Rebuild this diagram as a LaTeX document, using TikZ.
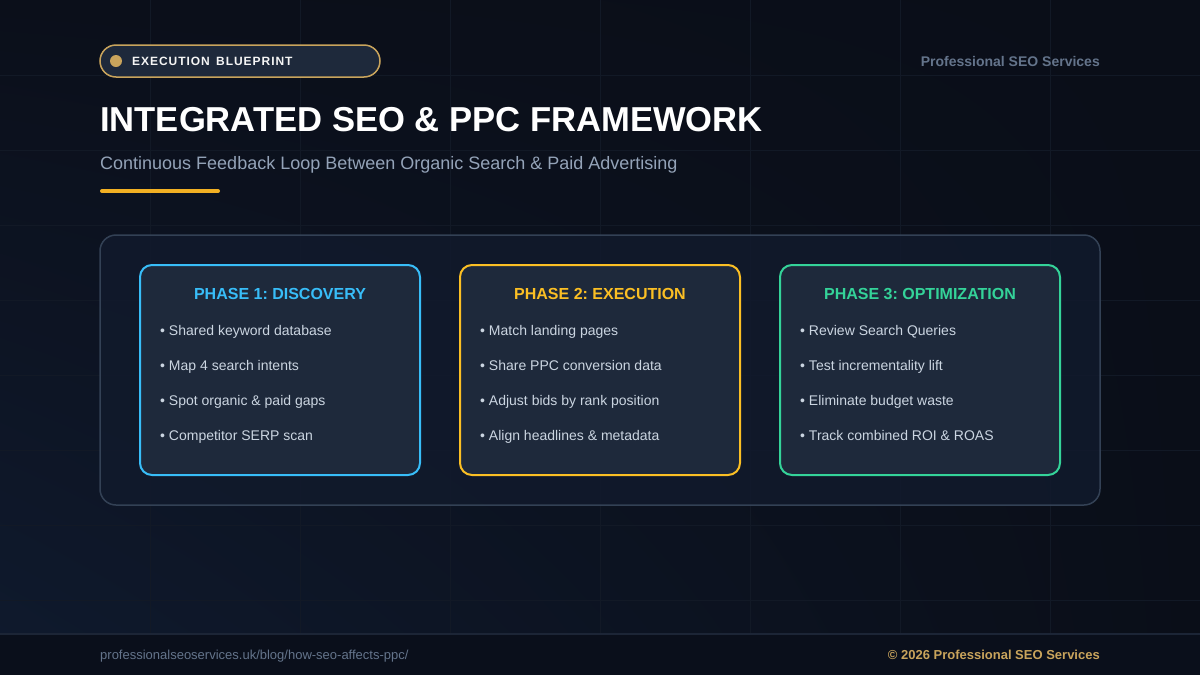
\documentclass[tikz,border=0pt]{standalone}
\usepackage{fontspec}
\setmainfont{Liberation Sans}
\newfontfamily\spacedfont[LetterSpace=8]{Liberation Sans}
\usetikzlibrary{positioning,shadings}
\frenchspacing
\definecolor{bgtop}{HTML}{0B0F1A}
\definecolor{bglow}{HTML}{0F1A2E}
\definecolor{bgright}{HTML}{0A0E18}
\definecolor{gridline}{HTML}{121926}
\definecolor{footbg}{HTML}{0A0F1B}
\definecolor{footline}{HTML}{1C2536}
\definecolor{panelfill}{HTML}{111A2C}
\definecolor{panelline}{HTML}{334155}
\definecolor{cardfill}{HTML}{1E293B}
\definecolor{gold}{HTML}{C9A45C}
\definecolor{accent}{HTML}{F2B023}
\definecolor{muted}{HTML}{64748B}
\definecolor{subtext}{HTML}{94A3B8}
\definecolor{bullettext}{HTML}{CBD5E1}
\definecolor{phaseblue}{HTML}{38BDF8}
\definecolor{phaseamber}{HTML}{FBBF24}
\definecolor{phasegreen}{HTML}{34D399}
\tikzset{
  card/.style={draw=#1,line width=2pt,fill=cardfill,rounded corners=12pt,
    minimum width=280pt,minimum height=210pt,inner sep=0pt},
  cardtitle/.style={text=#1,font=\bfseries\fontsize{16}{19}\selectfont,inner sep=0pt,anchor=base},
  bullet/.style={text=bullettext,font=\fontsize{14}{17}\selectfont,inner sep=0pt,anchor=base west},
}
\begin{document}
\begin{tikzpicture}[x=1pt,y=-1pt]
		\useasboundingbox (0,0) rectangle (1200,675);
		%fond
		\shade[upper left=bgtop,upper right=bgright,lower left=bglow,lower right=bgright] (0,0) rectangle (1200,675);
		\foreach \x in {150,300,...,1050}
		\draw[gridline,line width=1pt] (\x,0)--(\x,634);
		\foreach \y in {75,150,...,600}
		\draw[gridline,line width=1pt] (0,\y)--(1200,\y);
		%en-tete
		\node[draw=gold,line width=1.5pt,fill=cardfill,rounded corners=16pt,minimum width=280pt,minimum height=32pt,inner sep=0pt] (badge) at (240,61) {};
		\node[circle,fill=gold,minimum size=12pt,inner sep=0pt] (badgedot) at (116,61) {};
		\node[anchor=base west,inner sep=0pt,text=white!92!gray,font=\spacedfont\bfseries\fontsize{12}{14}\selectfont] (badgetext) at (132,65.3) {EXECUTION\hspace{2pt} BLUEPRINT};
		\node[anchor=base east,inner sep=0pt,text=muted,font=\bfseries\fontsize{14}{17}\selectfont] (brand) at (1100,66) {Professional SEO Services};
		\node[anchor=base west,inner sep=0pt,text=white,font=\bfseries\fontsize{34.6}{40}\selectfont] (title) at (100,131) {INTEGRATED SEO \& PPC FRAMEWORK};
		\node[anchor=base west,inner sep=0pt,text=subtext,font=\fontsize{18}{22}\selectfont] (subtitle) at (100,169.5) {Continuous Feedback Loop Between Organic Search \& Paid Advertising};
		\coordinate (rulestart) at (102,191);
		\coordinate (ruleend) at (218,191);
		\draw[accent,line width=4pt,line cap=round] (rulestart)--(ruleend);
		%panneau
		\node[draw=panelline,line width=1.5pt,fill=panelfill,fill opacity=0.85,rounded corners=16pt,minimum width=1000pt,minimum height=270pt] (panel) at (600,370) {};
		%phases
		\foreach \i/\col/\ttl/\items in {
		  1/phaseblue/{PHASE 1: DISCOVERY}/{Shared keyword database,Map 4 search intents,Spot organic \& paid gaps,Competitor SERP scan},
		  2/phaseamber/{PHASE 2: EXECUTION}/{Match landing pages,Share PPC conversion data,Adjust bids by rank position,Align headlines \& metadata},
		  3/phasegreen/{PHASE 3: OPTIMIZATION}/{Review Search Queries,Test incrementality lift,Eliminate budget waste,Track combined ROI \& ROAS}}
		{
		  \node[card=\col] (card\i) at ({280+320*(\i-1)},370) {};
		  \node[cardtitle=\col] (title\i) at ({280+320*(\i-1)},299.7) {\ttl};
		  \foreach \b [count=\k] in \items
		  \node[bullet] (bullet\i-\k) at ({160+320*(\i-1)},{300+35*\k}) {\textbullet\ \b};
		}
		%pied
		\fill[footbg] (0,634) rectangle (1200,675);
		\draw[footline,line width=1.5pt] (0,634)--(1200,634);
		\node[anchor=base west,inner sep=0pt,text=muted,font=\fontsize{13}{16}\selectfont] (url) at (100,659.5) {professionalseoservices.uk/blog/how-seo-affects-ppc/};
		\node[anchor=base east,inner sep=0pt,text=gold,font=\bfseries\fontsize{13}{16}\selectfont] (copy) at (1100,659.5) {© 2026 Professional SEO Services};
	\end{tikzpicture}
\end{document}
